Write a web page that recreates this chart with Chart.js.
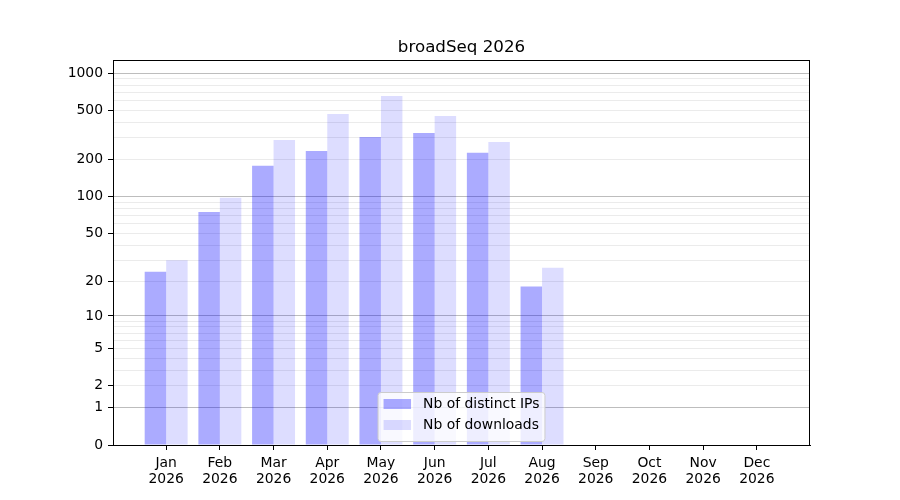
<!DOCTYPE html>
<html>
<head>
<meta charset="utf-8">
<title>broadSeq 2026</title>
<script src="https://cdn.jsdelivr.net/npm/chart.js@4.4.1/dist/chart.umd.min.js"></script>
<style>
  html, body { margin: 0; padding: 0; background: #ffffff; }
  #wrap { width: 900px; height: 500px; }
</style>
</head>
<body>
<div id="wrap"><canvas id="chart" width="900" height="500"></canvas></div>
<script>
const CHART_TITLE = 'broadSeq 2026';
const YEAR = '2026';
const months = ['Jan', 'Feb', 'Mar', 'Apr', 'May', 'Jun', 'Jul', 'Aug', 'Sep', 'Oct', 'Nov', 'Dec'];
const distinctIps = [24, 75, 178, 235, 305, 329, 227, 18, 0, 0, 0, 0];
const downloads = [30, 98, 289, 469, 655, 451, 278, 26, 0, 0, 0, 0];
const yTickLabels = [0, 1, 2, 5, 10, 20, 50, 100, 200, 500, 1000];
const yDecades = [1, 10, 100, 1000];
const Y_MAX = 1278;

// gridline positions: decades plus the 2..9 steps in between
const yGridValues = [0];
yDecades.forEach((d, i) => {
    yGridValues.push(d);
    if (i < yDecades.length - 1) {
        for (let k = 2; k <= 9; k++) yGridValues.push(d * k);
    }
});

// axis that spaces values like log10(1 + v), so 0 sits at the bottom
class Log1pScale extends Chart.Scale {
    static id = 'log1p';
    static defaults = {};

    parse(raw) {
        const v = Number(raw);
        return Number.isFinite(v) ? v : null;
    }
    determineDataLimits() {
        const { min, max } = this.getMinMax(false);
        this.min = this.options.min ?? min;
        this.max = this.options.max ?? max;
    }
    buildTicks() {
        return yGridValues.filter(v => v >= this.min && v <= this.max).map(v => ({ value: v }));
    }
    configure() {
        super.configure();
        this._startValue = Math.log10(1 + this.min);
        this._valueRange = Math.log10(1 + this.max) - this._startValue;
    }
    getLabelForValue(value) {
        return String(value);
    }
    getPixelForValue(value) {
        if (value === undefined || value === null || isNaN(value)) return NaN;
        return this.getPixelForDecimal((Math.log10(1 + value) - this._startValue) / this._valueRange);
    }
    getValueForPixel(pixel) {
        const d = this.getDecimalForPixel(pixel);
        return Math.pow(10, this._startValue + d * this._valueRange) - 1;
    }
}
Chart.register(Log1pScale);

const framePlugin = {
    id: 'frame',
    afterDatasetsDraw(chart) {
        const { ctx, chartArea: a } = chart;
        ctx.save();
        ctx.strokeStyle = '#000000';
        ctx.lineWidth = 1;
        ctx.strokeRect(Math.round(a.left) + 0.5, Math.round(a.top) + 0.5,
            Math.round(a.right - a.left) - 1, Math.round(a.bottom - a.top));
        ctx.restore();
    }
};

// matplotlib style legend, lower center inside the axes
const boxLegend = {
    id: 'boxLegend',
    afterDraw(chart) {
        const { ctx, chartArea: a } = chart;
        const sets = chart.data.datasets;
        ctx.save();
        ctx.font = '13.9px "DejaVu Sans"';
        const textW = Math.max(...sets.map(s => ctx.measureText(s.label).width));
        const w = 45 + textW + 5.5;
        const rowH = 21;
        const h = 7 + rowH * sets.length;
        const x = (a.left + a.right) / 2 - w / 2;
        const y = a.bottom - 3.5 - h;

        ctx.beginPath();
        ctx.roundRect(x, y, w, h, 3);
        ctx.fillStyle = 'rgba(255,255,255,0.8)';
        ctx.fill();
        ctx.strokeStyle = '#cccccc';
        ctx.lineWidth = 1;
        ctx.stroke();

        ctx.textBaseline = 'middle';
        ctx.textAlign = 'left';
        sets.forEach((s, i) => {
            const cy = y + 11.5 + i * rowH;
            ctx.fillStyle = s.backgroundColor;
            ctx.fillRect(x + 5.5, cy - 5, 27.5, 10);
            ctx.fillStyle = '#000000';
            ctx.fillText(s.label, x + 45, cy + 0.5);
        });
        ctx.restore();
    }
};

Chart.defaults.font.family = '"DejaVu Sans", sans-serif';
Chart.defaults.font.size = 13.9;
Chart.defaults.color = '#000000';

new Chart(document.getElementById('chart').getContext('2d'), {
    type: 'bar',
    data: {
        datasets: [
            {
                label: 'Nb of distinct IPs',
                data: distinctIps.map((v, i) => ({ x: i, y: v })),
                backgroundColor: 'rgba(0,0,255,0.33)',
                borderWidth: 0
            },
            {
                label: 'Nb of downloads',
                data: downloads.map((v, i) => ({ x: i, y: v })),
                backgroundColor: 'rgba(0,0,255,0.133)',
                borderWidth: 0
            }
        ]
    },
    options: {
        responsive: false,
        animation: false,
        devicePixelRatio: 1,
        categoryPercentage: 0.8,
        barPercentage: 1.0,
        layout: { padding: { left: 0, right: 90, top: 0, bottom: 0 } },
        plugins: {
            legend: { display: false },
            tooltip: { enabled: false },
            title: {
                display: true,
                fullSize: false,
                text: CHART_TITLE,
                font: { size: 16.7, weight: 'normal', lineHeight: 1.2 },
                color: '#000000',
                padding: { top: 38, bottom: 2 }
            }
        },
        scales: {
            x: {
                type: 'linear',
                bounds: 'data',
                offset: false,
                min: -0.99,
                max: 11.99,
                afterBuildTicks: scale => { scale.ticks = months.map((m, i) => ({ value: i })); },
                afterFit: scale => { scale.height = 55; },
                grid: { offset: false, drawOnChartArea: false, drawTicks: true, tickLength: 5, tickColor: '#000000', tickWidth: 1 },
                border: { display: true, color: '#000000', width: 1 },
                ticks: {
                    autoSkip: false,
                    maxRotation: 0,
                    padding: 5,
                    font: { lineHeight: 1.15 },
                    callback: value => [months[value], YEAR]
                }
            },
            y: {
                type: 'log1p',
                min: 0,
                max: Y_MAX,
                afterFit: scale => { scale.width = 113; },
                grid: {
                    color: ctx => {
                        const v = ctx.tick.value;
                        if (v === 0) return 'rgba(0,0,0,0)';
                        return yDecades.includes(v) ? '#bdbdbd' : '#ebebeb';
                    },
                    lineWidth: 1,
                    tickLength: 5,
                    tickWidth: 1,
                    tickColor: ctx => yTickLabels.includes(ctx.tick.value) ? '#000000' : 'rgba(0,0,0,0)'
                },
                border: { display: true, color: '#000000', width: 1 },
                ticks: {
                    autoSkip: false,
                    padding: 5,
                    callback: value => yTickLabels.includes(value) ? String(value) : ''
                }
            }
        }
    },
    plugins: [framePlugin, boxLegend]
});
</script>
</body>
</html>
